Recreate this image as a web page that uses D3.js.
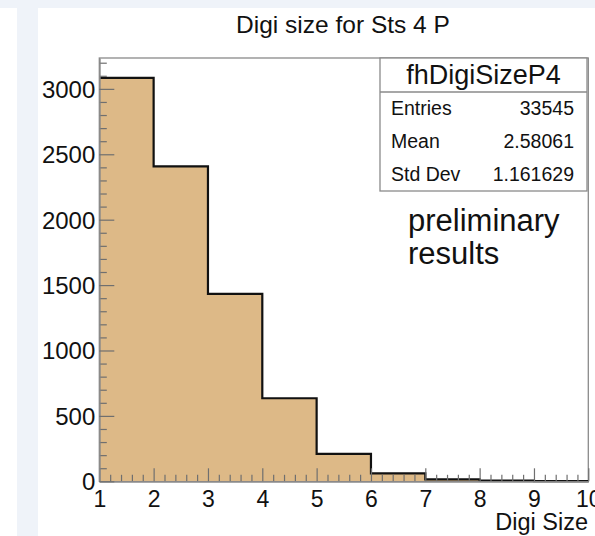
<!DOCTYPE html>
<html>
<head>
<meta charset="utf-8">
<script src="https://cdn.jsdelivr.net/npm/d3@7/dist/d3.min.js"></script>
<style>
  html, body { margin: 0; padding: 0; background: #ffffff; }
  svg { display: block; }
  text { font-family: "Liberation Sans", Arial, Helvetica, sans-serif; fill: #111; }
</style>
</head>
<body>
<svg id="chart" width="595" height="536"></svg>
<script>
// Histogram: digi size for STS station 4, P side
const title = "Digi size for Sts 4 P";
const histName = "fhDigiSizeP4";
const binLow = [1, 2, 3, 4, 5, 6, 7, 8, 9];
const binWidth = 1;
const counts = [3084, 2408, 1433, 635, 209, 61, 15, 5, 1];
const statLabels = ["Entries", "Mean", "Std Dev"];
const statValues = ["33545", "2.58061", "1.161629"];
const xTicks = [1, 2, 3, 4, 5, 6, 7, 8, 9, 10];
const yTicks = [0, 500, 1000, 1500, 2000, 2500, 3000];
const xAxisTitle = "Digi Size";
const noteLines = ["preliminary", "results"];

const svg = d3.select("#chart");

// page background panels
svg.append("rect").attr("x", 0).attr("y", 0).attr("width", 595).attr("height", 8).attr("fill", "#eff3f9");
svg.append("rect").attr("x", 17).attr("y", 0).attr("width", 21).attr("height", 536).attr("fill", "#eff3f9");

const frame = { left: 99.3, right: 588.3, top: 58, bottom: 481.3 };

const x = d3.scaleLinear().domain([1, 10]).range([frame.left, frame.right]);
const y = d3.scaleLinear().domain([0, 3236]).range([frame.bottom, frame.top]);

// title
svg.append("text")
  .attr("x", 343).attr("y", 33)
  .attr("text-anchor", "middle")
  .style("font-size", "24.5px")
  .text(title);

// frame
svg.append("rect")
  .attr("x", frame.left).attr("y", frame.top)
  .attr("width", frame.right - frame.left).attr("height", frame.bottom - frame.top)
  .attr("fill", "none").attr("stroke", "#8a8a8a").attr("stroke-width", 1.3);

// histogram fill and outline
const steps = [];
binLow.forEach((lo, i) => {
  steps.push([x(lo), y(counts[i])]);
  steps.push([x(lo + binWidth), y(counts[i])]);
});
const area = [[x(binLow[0]), y(0)], ...steps, [x(binLow[binLow.length - 1] + binWidth), y(0)]];

svg.append("path")
  .attr("d", d3.line()(area) + "Z")
  .attr("fill", "#ddb987").attr("stroke", "none");

svg.append("path")
  .attr("d", d3.line()(steps))
  .attr("fill", "none").attr("stroke", "#111").attr("stroke-width", 2.2)
  .attr("stroke-linejoin", "miter");

// axes
function styleAxis(g) {
  g.select(".domain").attr("stroke", "#8a8a8a").attr("stroke-width", 1.3);
  g.selectAll(".tick line").attr("stroke", "#6f6f6f").attr("stroke-width", 1.2);
  g.selectAll("text").style("font-family", '"Liberation Sans", Arial, Helvetica, sans-serif').attr("fill", "#111");
}

const xMinor = d3.range(1, 10.001, 0.2).map(v => +v.toFixed(1)).filter(v => !xTicks.includes(v));
svg.append("g")
  .attr("transform", `translate(0,${frame.bottom})`)
  .call(d3.axisBottom(x).tickValues(xMinor).tickSizeInner(-6.5).tickSizeOuter(0).tickFormat(""))
  .call(styleAxis);

svg.append("g")
  .attr("transform", `translate(0,${frame.bottom})`)
  .call(d3.axisBottom(x).tickValues(xTicks).tickSizeInner(-13).tickSizeOuter(0).tickPadding(9).tickFormat(d3.format("d")))
  .call(styleAxis)
  .call(g => g.selectAll("text").style("font-size", "23px").attr("dy", "0.71em"));

const yMinor = d3.range(0, 3236, 100).filter(v => !yTicks.includes(v));
svg.append("g")
  .attr("transform", `translate(${frame.left},0)`)
  .call(d3.axisLeft(y).tickValues(yMinor).tickSizeInner(-7.5).tickSizeOuter(0).tickFormat(""))
  .call(styleAxis);

svg.append("g")
  .attr("transform", `translate(${frame.left},0)`)
  .call(d3.axisLeft(y).tickValues(yTicks).tickSizeInner(-15).tickSizeOuter(0).tickPadding(4).tickFormat(d3.format("d")))
  .call(styleAxis)
  .call(g => g.selectAll("text").style("font-size", "24px").attr("dy", "0.35em"));

// x axis title
svg.append("text")
  .attr("x", 588).attr("y", 530)
  .attr("text-anchor", "end")
  .style("font-size", "23.5px")
  .text(xAxisTitle);

// statistics box
const box = { left: 380, right: 587, top: 58, sep: 92, bottom: 191 };
svg.append("rect")
  .attr("x", box.left).attr("y", box.top)
  .attr("width", box.right - box.left).attr("height", box.bottom - box.top)
  .attr("fill", "#fff").attr("stroke", "#8a8a8a").attr("stroke-width", 1.3);
svg.append("line")
  .attr("x1", box.left).attr("x2", box.right)
  .attr("y1", box.sep).attr("y2", box.sep)
  .attr("stroke", "#8a8a8a").attr("stroke-width", 1.3);
svg.append("text")
  .attr("x", (box.left + box.right) / 2).attr("y", 84)
  .attr("text-anchor", "middle")
  .style("font-size", "27px")
  .text(histName);

const rowH = (box.bottom - box.sep) / statLabels.length;
statLabels.forEach((lab, i) => {
  const cy = box.sep + rowH * (i + 0.5);
  svg.append("text")
    .attr("x", 391).attr("y", cy).attr("dy", "0.35em")
    .style("font-size", "19.5px")
    .text(lab);
  svg.append("text")
    .attr("x", 574).attr("y", cy).attr("dy", "0.35em")
    .attr("text-anchor", "end")
    .style("font-size", "19.5px")
    .text(statValues[i]);
});

// annotation
noteLines.forEach((t, i) => {
  svg.append("text")
    .attr("x", 408).attr("y", 231 + i * 33)
    .style("font-size", "31px")
    .text(t);
});
</script>
</body>
</html>
